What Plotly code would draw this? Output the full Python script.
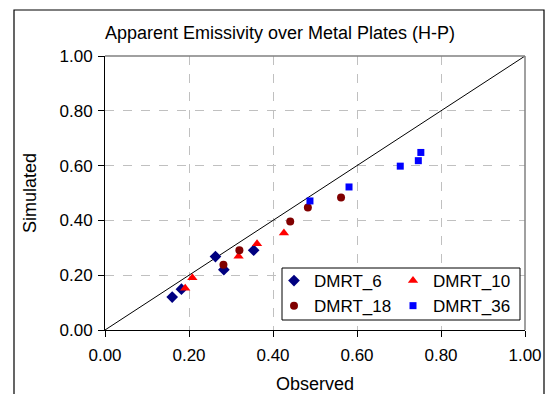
import plotly.graph_objects as go

# Data
dmrt6_obs = [0.160, 0.182, 0.263, 0.283, 0.354]
dmrt6_sim = [0.120, 0.149, 0.268, 0.220, 0.291]

dmrt10_obs = [0.191, 0.208, 0.318, 0.362, 0.426]
dmrt10_sim = [0.152, 0.191, 0.269, 0.315, 0.354]

dmrt18_obs = [0.282, 0.320, 0.441, 0.483, 0.562]
dmrt18_sim = [0.238, 0.291, 0.396, 0.447, 0.484]

dmrt36_obs = [0.488, 0.581, 0.703, 0.746, 0.752]
dmrt36_sim = [0.471, 0.522, 0.598, 0.618, 0.648]

one_to_one = [0.0, 1.0]
tick_vals = [0.0, 0.2, 0.4, 0.6, 0.8, 1.0]

FONT = "Liberation Sans, Arial, sans-serif"

fig = go.Figure()
fig.add_trace(go.Scatter(x=one_to_one, y=one_to_one, mode="lines",
                         line=dict(color="black", width=1), showlegend=False,
                         hoverinfo="skip"))
fig.add_trace(go.Scatter(x=dmrt6_obs, y=dmrt6_sim, mode="markers", name="DMRT_6",
                         legend="legend",
                         marker=dict(symbol="diamond", color="#000080", size=9)))
fig.add_trace(go.Scatter(x=dmrt10_obs, y=dmrt10_sim, mode="markers", name="DMRT_10",
                         legend="legend2",
                         marker=dict(symbol="triangle-up", color="#FF0000", size=9)))
fig.add_trace(go.Scatter(x=dmrt18_obs, y=dmrt18_sim, mode="markers", name="DMRT_18",
                         legend="legend",
                         marker=dict(symbol="circle", color="#800000", size=8)))
fig.add_trace(go.Scatter(x=dmrt36_obs, y=dmrt36_sim, mode="markers", name="DMRT_36",
                         legend="legend2",
                         marker=dict(symbol="square", color="#0000FF", size=7)))

L, R, T, B = 105, 525, 56, 330
W, H = 549, 394
pw, ph = R - L, B - T

def px2x(px):
    return (px - L) / pw

def px2y(py):
    return (B - py) / ph

axis_common = dict(range=[0, 1], tickvals=tick_vals, tickformat=".2f",
                   showgrid=True, gridcolor="#c0c0c0", griddash="dash", gridwidth=1,
                   zeroline=False, showline=True, linecolor="black", linewidth=1,
                   ticks="outside", ticklen=6, tickcolor="black", automargin=False,
                   tickfont=dict(family=FONT, size=17, color="black"))

fig.update_xaxes(**axis_common, ticklabelstandoff=4,
                 title=dict(text="Observed", standoff=12,
                            font=dict(family=FONT, size=18, color="black")))
fig.update_yaxes(**axis_common, ticklabelstandoff=2,
                 title=dict(text="Simulated", standoff=18,
                            font=dict(family=FONT, size=18, color="black")))

# plot-area border (gray top/right)
fig.add_shape(type="line", xref="paper", yref="paper", x0=0, x1=1, y0=1, y1=1,
              line=dict(color="#808080", width=1.5))
fig.add_shape(type="line", xref="paper", yref="paper", x0=1, x1=1, y0=0, y1=1,
              line=dict(color="#808080", width=1.5))
# outer chart frame
fig.add_shape(type="rect", xref="paper", yref="paper",
              x0=px2x(14), x1=px2x(544), y0=px2y(420), y1=px2y(10),
              line=dict(color="black", width=1.2), fillcolor="rgba(0,0,0,0)", layer="below")
# legend box
fig.add_shape(type="rect", xref="paper", yref="paper",
              x0=px2x(282), x1=px2x(520), y0=px2y(320), y1=px2y(268),
              line=dict(color="black", width=1), fillcolor="white", layer="above")

leg_common = dict(xanchor="left", yanchor="top", orientation="v",
                  bgcolor="rgba(0,0,0,0)", borderwidth=0,
                  font=dict(family=FONT, size=17, color="black"),
                  itemwidth=30, tracegroupgap=0)

fig.update_layout(
    width=W, height=H, autosize=False,
    margin=dict(l=L, r=W - R, t=T, b=H - B, pad=0, autoexpand=False),
    paper_bgcolor="white", plot_bgcolor="white",
    title=dict(text="Apparent Emissivity over Metal Plates (H-P)",
               font=dict(family=FONT, size=18, color="black"),
               x=280 / W, xref="container", xanchor="center",
               y=1 - 33 / H, yref="container", yanchor="middle", automargin=False),
    legend=dict(x=px2x(274), y=px2y(263), **leg_common),
    legend2=dict(x=px2x(393), y=px2y(263), **leg_common),
    showlegend=True,
)

fig.write_html("out.html", config={"displayModeBar": False},
               post_script="document.body.style.margin='0';")
